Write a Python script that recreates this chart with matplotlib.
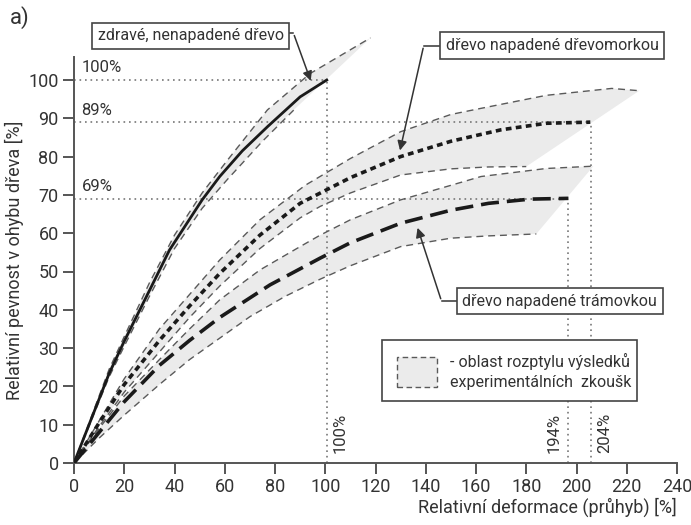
import matplotlib
matplotlib.use("Agg")
import matplotlib.pyplot as plt
from matplotlib.patches import Rectangle

plt.rcParams["font.family"] = ["Roboto", "DejaVu Sans"]

_INK = "#333333"
_AX = "#555555"
_BAND = "#ebebeb"
_EDGE = "#5a5a5a"

# healthy wood (zdravé dřevo)
healthy_x = [0, 14, 20, 30, 38, 51, 58, 67, 77, 90, 100.6]
healthy_y = [0, 23.4, 31.8, 45, 55.6, 68.7, 74.8, 81.5, 87.8, 95.6, 100]
healthy_up_x = [0, 14, 20, 30, 40, 51, 61, 77, 94, 118]
healthy_up_y = [0, 24.5, 33, 47, 59.5, 70.5, 79, 92.2, 101.7, 111]
healthy_lo_x = [0, 14, 20, 30, 40, 51, 61, 75, 88]
healthy_lo_y = [0, 22.5, 30.5, 43.5, 56, 66.5, 74, 84, 92.5]

# dry rot (dřevomorka)
dry_x = [0, 10, 20, 34, 46, 58, 74, 90, 110, 130, 150, 170, 188, 205.5]
dry_y = [0, 10.5, 20.5, 32, 41, 49.5, 59.5, 67.8, 74.5, 80, 84, 87, 88.7, 89]
dry_up_x = [0, 10, 20, 34, 46, 58, 74, 92, 110, 130, 150, 162, 188, 214, 225]
dry_up_y = [0, 11, 22, 35, 44, 53, 63.5, 72.5, 79.5, 86.5, 91, 92.6, 96, 97.8, 97.2]
dry_lo_x = [0, 10, 20, 34, 46, 58, 74, 90, 98, 110, 130, 150, 165, 180]
dry_lo_y = [0, 9.5, 18.5, 29, 38, 46.2, 56, 64, 67, 70.5, 75.2, 76.8, 77.3, 77.4]

# house longhorn beetle (trámovka)
beetle_x = [0, 10, 20, 34, 46, 58, 78, 98, 110, 130, 150, 165, 181.5, 196.8]
beetle_y = [0, 8, 16, 25.5, 32, 38, 46.5, 53.5, 57.5, 62.6, 66, 67.8, 68.9, 69.1]
beetle_up_x = [0, 10, 20, 34, 46, 58, 74, 90, 98, 110, 130, 150, 162, 188, 206.7]
beetle_up_y = [0, 9, 17.5, 27, 35, 42.6, 50.4, 56.5, 59.5, 63.5, 68.7, 72.5, 74.8, 76.9, 77.5]
beetle_lo_x = [0, 10, 20, 34, 46, 58, 70, 84, 98, 110, 130, 150, 165, 184]
beetle_lo_y = [0, 6.5, 12.5, 20.5, 27, 32.6, 38.2, 43.5, 48, 51.5, 56.5, 58.7, 59.3, 59.8]

# reference levels
ref_ends_x = [100.6, 205.8, 196.5]
ref_ends_y = [100, 89, 69]
ref_y_labels = ["100%", "89%", "69%"]
ref_x_labels = ["100%", "204%", "194%"]

x_ticks = list(range(0, 241, 20))
y_ticks = list(range(0, 101, 10))

fig = plt.figure(figsize=(6.91, 5.25), dpi=100)
ax = fig.add_axes([74 / 691, 62 / 525, 603 / 691, 115 * 3.83 / 525])
ax.set_xlim(0, 240)
ax.set_ylim(0, 115)


def band(ux, uy, lx, ly):
    px = list(ux) + list(lx[::-1])
    py = list(uy) + list(ly[::-1])
    ax.fill(px, py, color=_BAND, lw=0, zorder=1)
    for xs, ys in ((ux, uy), (lx, ly)):
        ax.plot(xs, ys, color=_EDGE, lw=1.0, ls=(0, (5, 3.5)), zorder=3, clip_on=False)


band(healthy_up_x, healthy_up_y, healthy_lo_x, healthy_lo_y)
band(dry_up_x, dry_up_y, dry_lo_x, dry_lo_y)
band(beetle_up_x, beetle_up_y, beetle_lo_x, beetle_lo_y)

# dotted reference lines
for xe, ye in zip(ref_ends_x, ref_ends_y):
    ax.plot([0, xe], [ye, ye], color="#777777", lw=1.2, ls=(0, (1, 2.3)), zorder=2)
    ax.plot([xe, xe], [0, ye], color="#777777", lw=1.2, ls=(0, (1, 2.3)), zorder=2)

ax.plot(healthy_x, healthy_y, color="#1a1a1a", lw=2.0, zorder=4)
ax.plot(dry_x, dry_y, color="#1a1a1a", lw=2.6, ls=(0, (1.6, 1.2)), zorder=4)
ax.plot(beetle_x, beetle_y, color="#1a1a1a", lw=2.6, ls=(0, (5, 2.2)), zorder=4)

for lab, ye in zip(ref_y_labels, ref_ends_y):
    ax.text(3, ye + 1.2, lab, color=_INK, fontsize=12, ha="left", va="bottom")
ax.text(ref_ends_x[0] + 2.5, 2.5, ref_x_labels[0], color=_INK, fontsize=12,
        rotation=90, ha="left", va="bottom")
ax.text(ref_ends_x[1] + 2.5, 2.5, ref_x_labels[1], color=_INK, fontsize=12,
        rotation=90, ha="left", va="bottom")
ax.text(ref_ends_x[2] - 2.5, 2.5, ref_x_labels[2], color=_INK, fontsize=12,
        rotation=90, ha="right", va="bottom")

# callout boxes with elbow arrows
box = dict(boxstyle="square,pad=0.35", fc="white", ec="#444444", lw=1.2)
arrow = dict(arrowstyle="-|>", color="#333333", lw=1.1, mutation_scale=14)


def callout(txt, tx, ty, ex, ey, tipx, tipy, stub_x):
    ax.text(tx, ty, txt, ha="left", va="center", fontsize=11.5, color=_INK,
            bbox=box, zorder=6, clip_on=False)
    ax.plot([stub_x, ex], [ey, ey], color="#333333", lw=1.1, clip_on=False, zorder=5)
    ax.annotate("", xy=(tipx, tipy), xytext=(ex, ey), arrowprops=arrow,
                zorder=5, annotation_clip=False)


callout("zdravé, nenapadené dřevo", 9.5, 111.5, 87.3, 112.3, 94.6, 99.1, 82.0)
callout("dřevo napadené dřevomorkou", 148.0, 109.0, 139.2, 109.0, 129.5, 80.9, 146.0)
callout("dřevo napadené trámovkou", 154.5, 42.2, 146.3, 42.2, 136.4, 62.1, 152.5)

# legend box
ax.add_patch(Rectangle((122.5, 16.3), 101.5, 15.8, fc="white", ec="#444444",
                       lw=1.2, zorder=6))
ax.add_patch(Rectangle((128.4, 19.9), 15.9, 7.7, fc=_BAND, ec=_EDGE, lw=1.0,
                       ls=(0, (4, 2.5)), zorder=7))
ax.text(149.7, 26.6, "- oblast rozptylu výsledků", fontsize=11.5, color=_INK,
        ha="left", va="center", zorder=7)
ax.text(149.7, 20.9, "experimentálních  zkoušk", fontsize=11.5, color=_INK,
        ha="left", va="center", zorder=7)

# axes styling
for s in ("top", "right"):
    ax.spines[s].set_visible(False)
for s in ("left", "bottom"):
    ax.spines[s].set_color(_AX)
    ax.spines[s].set_linewidth(1.4)
ax.spines["left"].set_bounds(0, 106)
ax.set_xticks(x_ticks)
ax.set_yticks(y_ticks)
ax.tick_params(direction="out", length=8, width=1.4, color=_AX,
               labelcolor=_INK, labelsize=13, pad=3)
ax.set_xlabel("Relativní deformace (průhyb) [%]", loc="right", fontsize=13,
              color=_INK, labelpad=1)
ax.set_ylabel("Relativní pevnost v ohybu dřeva [%]", fontsize=13, color=_INK)
ax.yaxis.set_label_coords(-0.083, 0.46)
fig.text(10 / 691, 1 - 18 / 525, "a)", fontsize=16, color=_INK, va="center")

fig.savefig("out.png", dpi=100, facecolor="white")
